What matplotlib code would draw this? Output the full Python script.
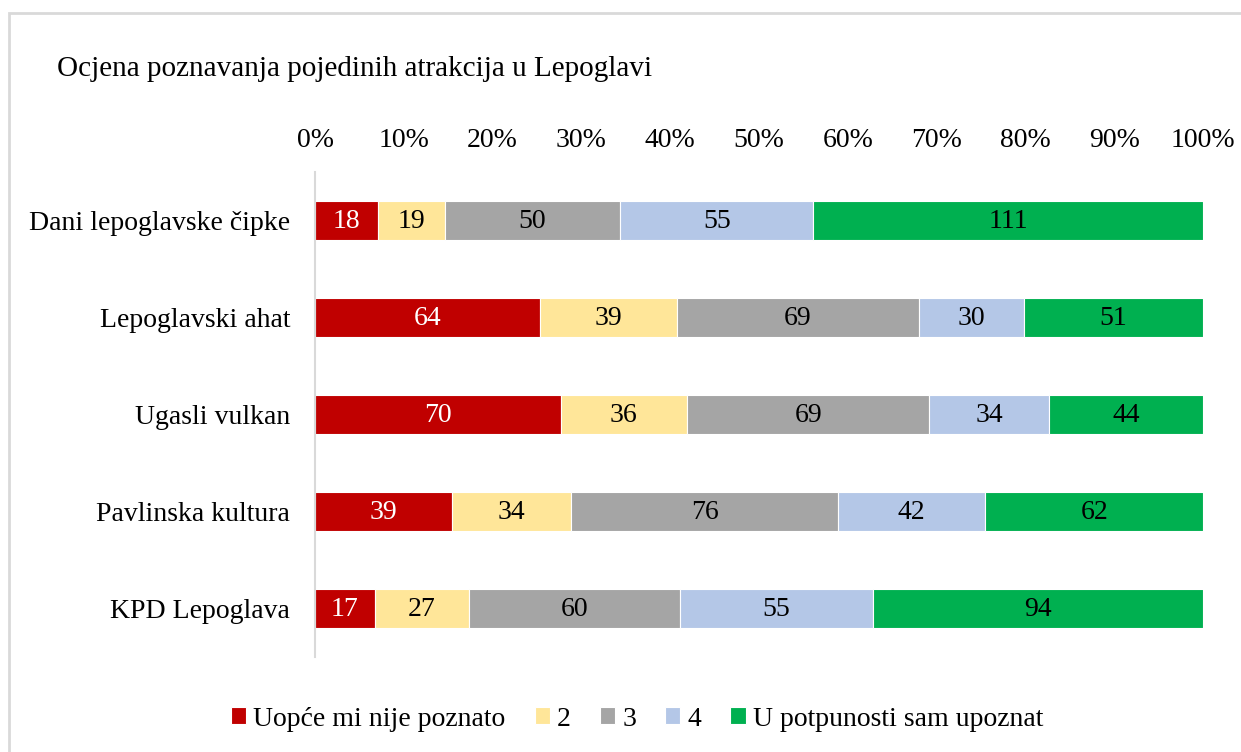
import numpy as np
import matplotlib
matplotlib.use("Agg")
import matplotlib.pyplot as plt
from matplotlib.patches import Rectangle

plt.rcParams['font.family'] = ['Liberation Serif', 'DejaVu Serif']

# data
categories = ["Dani lepoglavske čipke", "Lepoglavski ahat", "Ugasli vulkan",
              "Pavlinska kultura", "KPD Lepoglava"]
series_names = ["Uopće mi nije poznato", "2", "3", "4", "U potpunosti sam upoznat"]
ocjena_1 = [18, 64, 70, 39, 17]
ocjena_2 = [19, 39, 36, 34, 27]
ocjena_3 = [50, 69, 69, 76, 60]
ocjena_4 = [55, 30, 34, 42, 55]
ocjena_5 = [111, 51, 44, 62, 94]
tick_labels = ["0%", "10%", "20%", "30%", "40%", "50%", "60%", "70%", "80%", "90%", "100%"]

colors = ["#C00000", "#FFE699", "#A5A5A5", "#B4C7E7", "#00B050"]
text_colors = ["white", "black", "black", "black", "black"]

values = np.array([ocjena_1, ocjena_2, ocjena_3, ocjena_4, ocjena_5], dtype=float)
totals = values.sum(axis=0)
shares = values / totals

fig = plt.figure(figsize=(12.41, 7.52), dpi=100)
ax = fig.add_axes([315 / 1241, 1 - 657 / 752, 888 / 1241, 485 / 752])

# outer chart border (partly cut off on the right / bottom)
fig.patches.append(Rectangle((9 / 1241, -0.05), 1.1, 1 - 13 / 752 + 0.05,
                             transform=fig.transFigure, fill=False,
                             edgecolor="#D9D9D9", linewidth=2))

y = np.arange(len(categories))
left = np.zeros(len(categories))
for i in range(len(series_names)):
    ax.barh(y, shares[i], left=left, height=0.4, color=colors[i],
            label=series_names[i], edgecolor="white", linewidth=0.8)
    for j in range(len(categories)):
        ax.text(left[j] + shares[i][j] / 2, y[j] + 0.01, str(int(values[i][j])),
                ha="center", va="center", fontsize=20, color=text_colors[i])
    left += shares[i]

ax.set_xlim(0, 1)
ax.set_ylim(len(categories) - 0.5, -0.5)
ax.set_yticks(y)
ax.set_yticklabels(categories, fontsize=20)
ax.set_xticks(np.linspace(0, 1, 11))
ax.set_xticklabels(tick_labels, fontsize=20)
ax.xaxis.tick_top()
ax.tick_params(axis="x", length=0, pad=14)
ax.tick_params(axis="y", length=0, pad=18)
for s in ["top", "right", "bottom"]:
    ax.spines[s].set_visible(False)
ax.spines["left"].set_color("#D9D9D9")
ax.spines["left"].set_linewidth(1.5)

fig.text(57 / 1241, 1 - 69 / 752, "Ocjena poznavanja pojedinih atrakcija u Lepoglavi",
         fontsize=21, va="center", ha="left")

fig.legend(loc="center", bbox_to_anchor=(637 / 1241, 1 - 719 / 752), ncol=5,
           frameon=False, fontsize=20, handlelength=0.55, handleheight=0.55,
           handletextpad=0.25, columnspacing=1.05)

fig.savefig("out.png", dpi=100)
